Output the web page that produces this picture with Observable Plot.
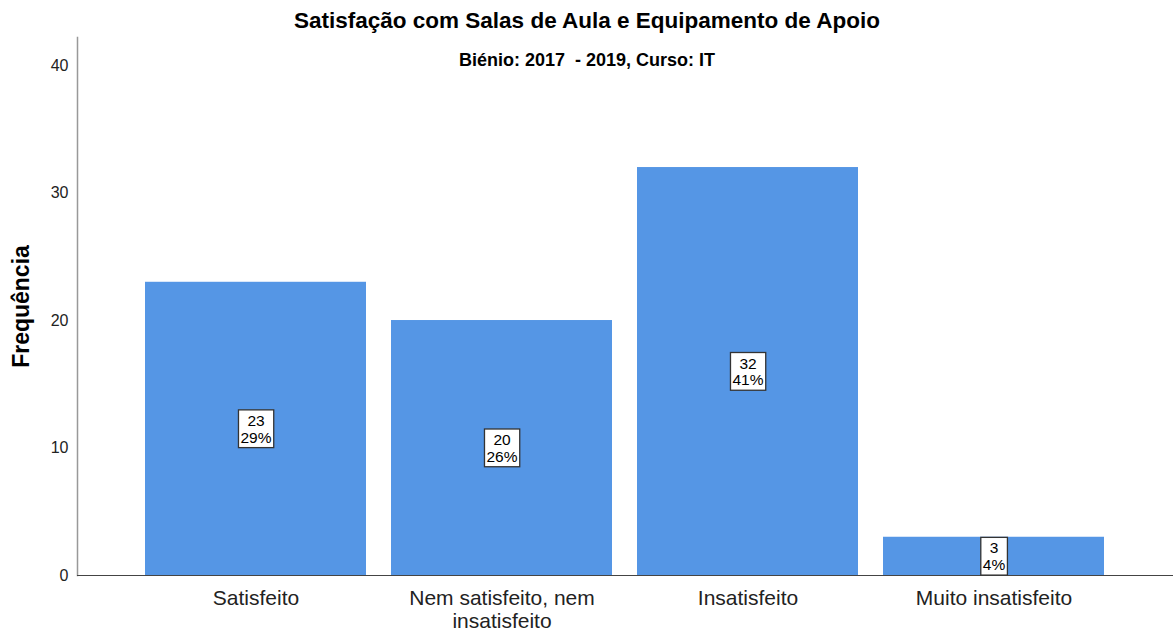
<!DOCTYPE html>
<html>
<head>
<meta charset="utf-8">
<script src="https://cdn.jsdelivr.net/npm/d3@7"></script>
<script src="https://cdn.jsdelivr.net/npm/@observablehq/plot@0.6"></script>
<style>
  html, body { margin: 0; padding: 0; background: #fff; }
  #chart svg { display: block; font-family: "Liberation Sans", Arial, sans-serif; }
</style>
</head>
<body>
<div id="chart"></div>
<script>
const titleText = "Satisfação com Salas de Aula e Equipamento de Apoio";
const subtitleText = "Biénio: 2017  - 2019, Curso: IT";
const yLabel = "Frequência";
const categories = ["Satisfeito", "Nem satisfeito, nem insatisfeito", "Insatisfeito", "Muito insatisfeito"];
const tickLabels = ["Satisfeito", "Nem satisfeito, nem\ninsatisfeito", "Insatisfeito", "Muito insatisfeito"];
const counts = [23, 20, 32, 3];
const percents = ["29%", "26%", "41%", "4%"];
const yTicks = [0, 10, 20, 30, 40];

const data = categories.map((c, i) => ({cat: c, n: counts[i], label: `${counts[i]}\n${percents[i]}`}));
const tickMap = new Map(categories.map((c, i) => [c, tickLabels[i]]));

const W = 1173, ML = 77, MR = 0;
const pageCenterShift = W / 2 - (ML + (W - ML - MR) / 2);

const chart = Plot.plot({
  width: W,
  height: 634,
  marginTop: 37,
  marginBottom: 59,
  marginLeft: ML,
  marginRight: MR,
  style: {fontFamily: "'Liberation Sans', Arial, sans-serif", background: "#fff", color: "#000"},
  x: {domain: categories, paddingInner: 0.1, paddingOuter: 0.27, label: null},
  y: {domain: [0, 42.2], label: null},
  marks: [
    Plot.barY(data, {x: "cat", y: "n", fill: "#5596E5"}),
    Plot.axisY({ticks: yTicks, tickSize: 0, tickPadding: 9, fontSize: 16, label: null, fill: "#222"}),
    Plot.axisX({tickSize: 0, tickPadding: 13, fontSize: 21, lineHeight: 1.1, tickFormat: d => tickMap.get(d), label: null, fill: "#222"}),
    Plot.frame({anchor: "left", stroke: "#999", strokeWidth: 1.5}),
    Plot.ruleY([0], {stroke: "#444", strokeWidth: 1.2}),
    Plot.text(data, {x: "cat", y: d => d.n / 2, text: "label", fontSize: 15.5, lineHeight: 1.08, fill: "#000", className: "boxlab"}),
    Plot.text([titleText], {frameAnchor: "top", dx: pageCenterShift, dy: -25, fontSize: 22.5, fontWeight: "bold", fill: "#000"}),
    Plot.text([subtitleText], {frameAnchor: "top", dx: pageCenterShift, dy: 16, fontSize: 18, fontWeight: "bold", fill: "#000"}),
    Plot.text([yLabel], {frameAnchor: "left", dx: -56, rotate: -90, textAnchor: "middle", fontSize: 23, fontWeight: "bold", fill: "#000"})
  ]
});
document.getElementById("chart").appendChild(chart);

// Draw white bordered boxes behind the bar labels, sized from the rendered text
chart.querySelectorAll("g.boxlab text").forEach(t => {
  const b = t.getBBox();
  const r = document.createElementNS("http://www.w3.org/2000/svg", "rect");
  const padX = 2, padY = 2;
  r.setAttribute("x", b.x - padX);
  r.setAttribute("y", b.y - padY);
  r.setAttribute("width", b.width + 2 * padX);
  r.setAttribute("height", b.height + 2 * padY);
  r.setAttribute("fill", "#fff");
  r.setAttribute("stroke", "#333");
  r.setAttribute("stroke-width", "1.3");
  const tr = t.getAttribute("transform");
  if (tr) r.setAttribute("transform", tr);
  t.parentNode.insertBefore(r, t);
});
</script>
</body>
</html>
